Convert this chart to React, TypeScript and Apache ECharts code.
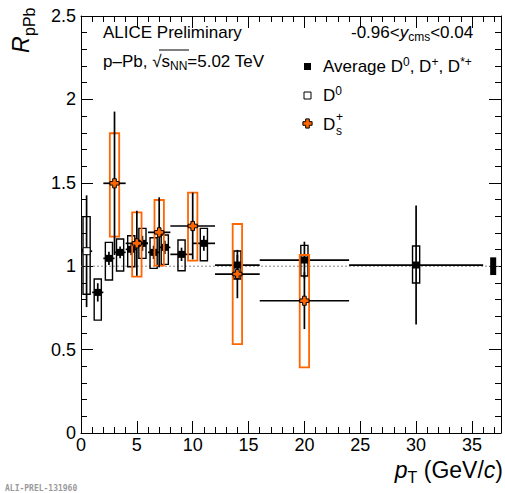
import React, { useEffect, useRef } from "react";
import * as echarts from "echarts";

// ---------- axes ----------
const X_MIN = 0;
const X_MAX = 37.6;
const Y_MIN = 0;
const Y_MAX = 2.5;
const X_MAJOR = [0, 5, 10, 15, 20, 25, 30, 35];
const X_MINOR = [1, 2, 3, 4, 6, 7, 8, 9, 11, 12, 13, 14, 16, 17, 18, 19, 21, 22, 23, 24, 26, 27, 28, 29, 31, 32, 33, 34, 36, 37];
const Y_MAJOR = [0, 0.5, 1, 1.5, 2, 2.5];
const Y_MINOR = [0.1, 0.2, 0.3, 0.4, 0.6, 0.7, 0.8, 0.9, 1.1, 1.2, 1.3, 1.4, 1.6, 1.7, 1.8, 1.9, 2.1, 2.2, 2.3, 2.4];

// ---------- Average D0, D+, D*+ ----------
const AVG_PT = [1.5, 2.5, 3.5, 4.5, 5.5, 6.5, 7.5, 9, 11, 14, 20, 30];
const AVG_PT_LO = [1, 2, 3, 4, 5, 6, 7, 8, 10, 12, 16, 24];
const AVG_PT_HI = [2, 3, 4, 5, 6, 7, 8, 10, 12, 16, 24, 36];
const AVG_R = [0.843, 1.047, 1.083, 1.101, 1.137, 1.083, 1.113, 1.071, 1.137, 1.007, 1.037, 1.007];
const AVG_STAT = [0.055, 0.04, 0.035, 0.035, 0.045, 0.04, 0.04, 0.04, 0.045, 0.06, 0.11, 0.357];
const AVG_SYST_UP = [0.08, 0.096, 0.08, 0.082, 0.09, 0.088, 0.074, 0.086, 0.09, 0.084, 0.088, 0.114];
const AVG_SYST_DN = [0.166, 0.13, 0.112, 0.104, 0.09, 0.096, 0.102, 0.098, 0.104, 0.084, 0.096, 0.108];

// ---------- D0 ----------
const D0_PT = [0.5];
const D0_PT_LO = [0];
const D0_PT_HI = [1];
const D0_R = [1.09];
const D0_STAT = [0.335];
const D0_SYST_UP = [0.207];
const D0_SYST_DN = [0.258];

// ---------- Ds+ ----------
const DS_PT = [3, 5, 7, 10, 14, 20];
const DS_PT_LO = [2, 4, 6, 8, 12, 16];
const DS_PT_HI = [4, 6, 8, 12, 16, 24];
const DS_R = [1.497, 1.137, 1.203, 1.241, 0.953, 0.793];
const DS_STAT = [0.43, 0.195, 0.21, 0.2, 0.145, 0.17];
const DS_SYST_UP = [0.3, 0.186, 0.194, 0.2, 0.3, 0.274];
const DS_SYST_DN = [0.32, 0.2, 0.2, 0.208, 0.42, 0.4];

// ---------- normalisation uncertainty ----------
const NORM_PT = [36.9];
const NORM_UNC = [0.053];

// ---------- style ----------
const F = "Liberation Sans";
const ORANGE = "#ff6600";
const BOX_HALF = 0.32;
const DS_BOX_HALF = 0.42;
const NORM_HALF = 0.27;

function rows(pt: number[], lo: number[], hi: number[], r: number[], st: number[], su: number[], sd: number[]) {
  return pt.map((p, i) => [p, r[i], lo[i], hi[i], st[i], su[i], sd[i]]);
}

function crossPoints(cx: number, cy: number, s: number, t: number) {
  return [
    [cx - t, cy - s], [cx + t, cy - s], [cx + t, cy - t], [cx + s, cy - t],
    [cx + s, cy + t], [cx + t, cy + t], [cx + t, cy + s], [cx - t, cy + s],
    [cx - t, cy + t], [cx - s, cy + t], [cx - s, cy - t], [cx - t, cy - t],
  ];
}

function makeRender(kind: "avg" | "d0" | "ds") {
  return (_params: any, api: any) => {
    const pt = api.value(0);
    const r = api.value(1);
    const lo = api.value(2);
    const hi = api.value(3);
    const st = api.value(4);
    const su = api.value(5);
    const sd = api.value(6);
    const half = kind === "ds" ? DS_BOX_HALF : BOX_HALF;
    const p0 = api.coord([pt - half, r + su]);
    const p1 = api.coord([pt + half, r - sd]);
    const c = api.coord([pt, r]);
    const xl = api.coord([lo, r]);
    const xh = api.coord([hi, r]);
    const yt = api.coord([pt, r + st]);
    const yb = api.coord([pt, r - st]);
    const boxColor = kind === "ds" ? ORANGE : "#000";
    const children: any[] = [
      {
        type: "rect",
        shape: { x: p0[0], y: p0[1], width: p1[0] - p0[0], height: p1[1] - p0[1] },
        style: { fill: "none", stroke: boxColor, lineWidth: kind === "ds" ? 1.8 : 1.4 },
      },
      {
        type: "line",
        shape: { x1: xl[0], y1: c[1], x2: xh[0], y2: c[1] },
        style: { stroke: "#000", lineWidth: 1.7 },
      },
      {
        type: "line",
        shape: { x1: c[0], y1: yt[1], x2: c[0], y2: yb[1] },
        style: { stroke: "#000", lineWidth: 1.7 },
      },
    ];
    if (kind === "avg") {
      children.push({
        type: "rect",
        shape: { x: c[0] - 3.5, y: c[1] - 3.5, width: 7, height: 7 },
        style: { fill: "#000" },
      });
    } else if (kind === "d0") {
      children.push({
        type: "rect",
        shape: { x: c[0] - 3.5, y: c[1] - 3.5, width: 7, height: 7 },
        style: { fill: "#fff", stroke: "#000", lineWidth: 1 },
      });
    } else {
      children.push({
        type: "polygon",
        shape: { points: crossPoints(c[0], c[1], 4.6, 1.8) },
        style: { fill: ORANGE, stroke: "#000", lineWidth: 1 },
      });
    }
    return { type: "group", children };
  };
}

function renderNorm(_params: any, api: any) {
  const pt = api.value(0);
  const u = api.value(1);
  const p0 = api.coord([pt - NORM_HALF, 1 + u]);
  const p1 = api.coord([pt + NORM_HALF, 1 - u]);
  return {
    type: "rect",
    shape: { x: p0[0], y: p0[1], width: p1[0] - p0[0], height: p1[1] - p0[1] },
    style: { fill: "#000" },
  };
}

function xAxis(position: string, values: number[], len: number, labels: boolean, line: boolean) {
  return {
    type: "value",
    position,
    min: X_MIN,
    max: X_MAX,
    axisLine: { show: line, onZero: false, lineStyle: { color: "#000", width: 1 } },
    axisTick: { show: true, inside: true, length: len, customValues: values, lineStyle: { color: "#000", width: 1 } },
    axisLabel: labels
      ? { show: true, customValues: X_MAJOR, fontSize: 18, color: "#000", fontFamily: F, margin: 3 }
      : { show: false },
    splitLine: { show: false },
  };
}

function yAxis(position: string, values: number[], len: number, labels: boolean, line: boolean) {
  return {
    type: "value",
    position,
    min: Y_MIN,
    max: Y_MAX,
    axisLine: { show: line, onZero: false, lineStyle: { color: "#000", width: 1 } },
    axisTick: { show: true, inside: true, length: len, customValues: values, lineStyle: { color: "#000", width: 1 } },
    axisLabel: labels
      ? { show: true, customValues: Y_MAJOR, fontSize: 18, color: "#000", fontFamily: F, margin: 5 }
      : { show: false },
    splitLine: { show: false },
  };
}

export default function App() {
  const ref = useRef<HTMLDivElement>(null);

  useEffect(() => {
    if (!ref.current) return;
    const chart = echarts.init(ref.current, undefined, { renderer: "svg" });

    const T = 17;
    const SUP = 12;
    const rich = {
      n: { fontSize: T, fontFamily: F, color: "#000" },
      i: { fontSize: T, fontFamily: F, color: "#000", fontStyle: "italic" },
      sup: { fontSize: SUP, fontFamily: F, color: "#000", padding: [0, 0, 9, 0] },
      sub: { fontSize: SUP, fontFamily: F, color: "#000", padding: [9, 0, 0, 0] },
    };

    const option: any = {
      animation: false,
      backgroundColor: "#fff",
      grid: { left: 81, right: 4, top: 16, bottom: 60, containLabel: false },
      xAxis: [
        xAxis("bottom", X_MAJOR, 12, true, true),
        xAxis("bottom", X_MINOR, 6, false, false),
        xAxis("top", X_MAJOR, 12, false, true),
        xAxis("top", X_MINOR, 6, false, false),
      ],
      yAxis: [
        yAxis("left", Y_MAJOR, 12, true, true),
        yAxis("left", Y_MINOR, 6, false, false),
        yAxis("right", Y_MAJOR, 12, false, true),
        yAxis("right", Y_MINOR, 6, false, false),
      ],
      series: [
        {
          type: "line",
          data: [[X_MIN, 1], [X_MAX, 1]],
          symbol: "none",
          silent: true,
          lineStyle: { color: "#888", width: 1, type: [2, 2] },
          z: 1,
        },
        {
          type: "custom",
          renderItem: makeRender("avg"),
          data: rows(AVG_PT, AVG_PT_LO, AVG_PT_HI, AVG_R, AVG_STAT, AVG_SYST_UP, AVG_SYST_DN),
          encode: { x: 0, y: 1 },
          z: 2,
        },
        {
          type: "custom",
          renderItem: makeRender("d0"),
          data: rows(D0_PT, D0_PT_LO, D0_PT_HI, D0_R, D0_STAT, D0_SYST_UP, D0_SYST_DN),
          encode: { x: 0, y: 1 },
          z: 3,
        },
        {
          type: "custom",
          renderItem: makeRender("ds"),
          data: rows(DS_PT, DS_PT_LO, DS_PT_HI, DS_R, DS_STAT, DS_SYST_UP, DS_SYST_DN),
          encode: { x: 0, y: 1 },
          z: 4,
        },
        {
          type: "custom",
          renderItem: renderNorm,
          data: NORM_PT.map((p, i) => [p, NORM_UNC[i]]),
          encode: { x: 0, y: 1 },
          z: 5,
        },
      ],
      graphic: [
        // y axis title
        {
          type: "text",
          x: 21,
          y: 53,
          rotation: Math.PI / 2,
          style: { text: "R", font: `italic 23px ${F}`, fill: "#000", align: "left", verticalAlign: "middle" },
        },
        {
          type: "text",
          x: 29,
          y: 36,
          rotation: Math.PI / 2,
          style: { text: "pPb", font: `16px ${F}`, fill: "#000", align: "left", verticalAlign: "middle" },
        },
        // x axis title
        {
          type: "text",
          x: 503,
          y: 470,
          style: {
            text: "{i|p}{s|T}{n| (GeV/}{i|c}{n|)}",
            align: "right",
            verticalAlign: "middle",
            rich: {
              n: { fontSize: 23, fontFamily: F, color: "#000" },
              i: { fontSize: 23, fontFamily: F, color: "#000", fontStyle: "italic" },
              s: { fontSize: 16, fontFamily: F, color: "#000", padding: [14, 0, 0, 0] },
            },
          },
        },
        // ALICE text
        {
          type: "text",
          x: 103,
          y: 32,
          style: { text: "ALICE Preliminary", font: `${T}px ${F}`, fill: "#000", align: "left", verticalAlign: "middle" },
        },
        {
          type: "text",
          x: 103,
          y: 61,
          style: {
            text: "{n|p–Pb, √}{n|s}{sub|NN}{n|=5.02 TeV}",
            align: "left",
            verticalAlign: "middle",
            rich,
          },
        },
        {
          type: "line",
          shape: { x1: 159, y1: 50, x2: 189, y2: 50 },
          style: { stroke: "#000", lineWidth: 1 },
        },
        // rapidity
        {
          type: "text",
          x: 351,
          y: 32,
          style: {
            text: "{n|-0.96<}{i|y}{sub|cms}{n|<0.04}",
            align: "left",
            verticalAlign: "middle",
            rich,
          },
        },
        // legend
        {
          type: "rect",
          shape: { x: 304, y: 63, width: 7, height: 7 },
          style: { fill: "#000" },
        },
        {
          type: "text",
          x: 323,
          y: 66,
          style: {
            text: "{n|Average D}{sup|0}{n|, D}{sup|+}{n|, D}{sup|*+}",
            align: "left",
            verticalAlign: "middle",
            rich,
          },
        },
        {
          type: "rect",
          shape: { x: 304, y: 92, width: 7, height: 7 },
          style: { fill: "#fff", stroke: "#000", lineWidth: 1 },
        },
        {
          type: "text",
          x: 323,
          y: 95,
          style: { text: "{n|D}{sup|0}", align: "left", verticalAlign: "middle", rich },
        },
        {
          type: "polygon",
          shape: { points: crossPoints(307.5, 123.5, 4.6, 1.8) },
          style: { fill: ORANGE, stroke: "#000", lineWidth: 1 },
        },
        {
          type: "text",
          x: 323,
          y: 124,
          style: { text: "D", font: `${T}px ${F}`, fill: "#000", align: "left", verticalAlign: "middle" },
        },
        {
          type: "text",
          x: 336,
          y: 117,
          style: { text: "+", font: `${SUP}px ${F}`, fill: "#000", align: "left", verticalAlign: "middle" },
        },
        {
          type: "text",
          x: 336,
          y: 131,
          style: { text: "s", font: `${SUP}px ${F}`, fill: "#000", align: "left", verticalAlign: "middle" },
        },
        // preliminary id
        {
          type: "text",
          x: 5,
          y: 488,
          style: { text: "ALI-PREL-131960", font: `bold 8px DejaVu Sans Mono`, fill: "#999", align: "left", verticalAlign: "middle" },
        },
      ],
    };

    chart.setOption(option);
    return () => chart.dispose();
  }, []);

  return <div ref={ref} style={{ position: "absolute", left: 0, top: 0, width: 505, height: 493 }} />;
}
